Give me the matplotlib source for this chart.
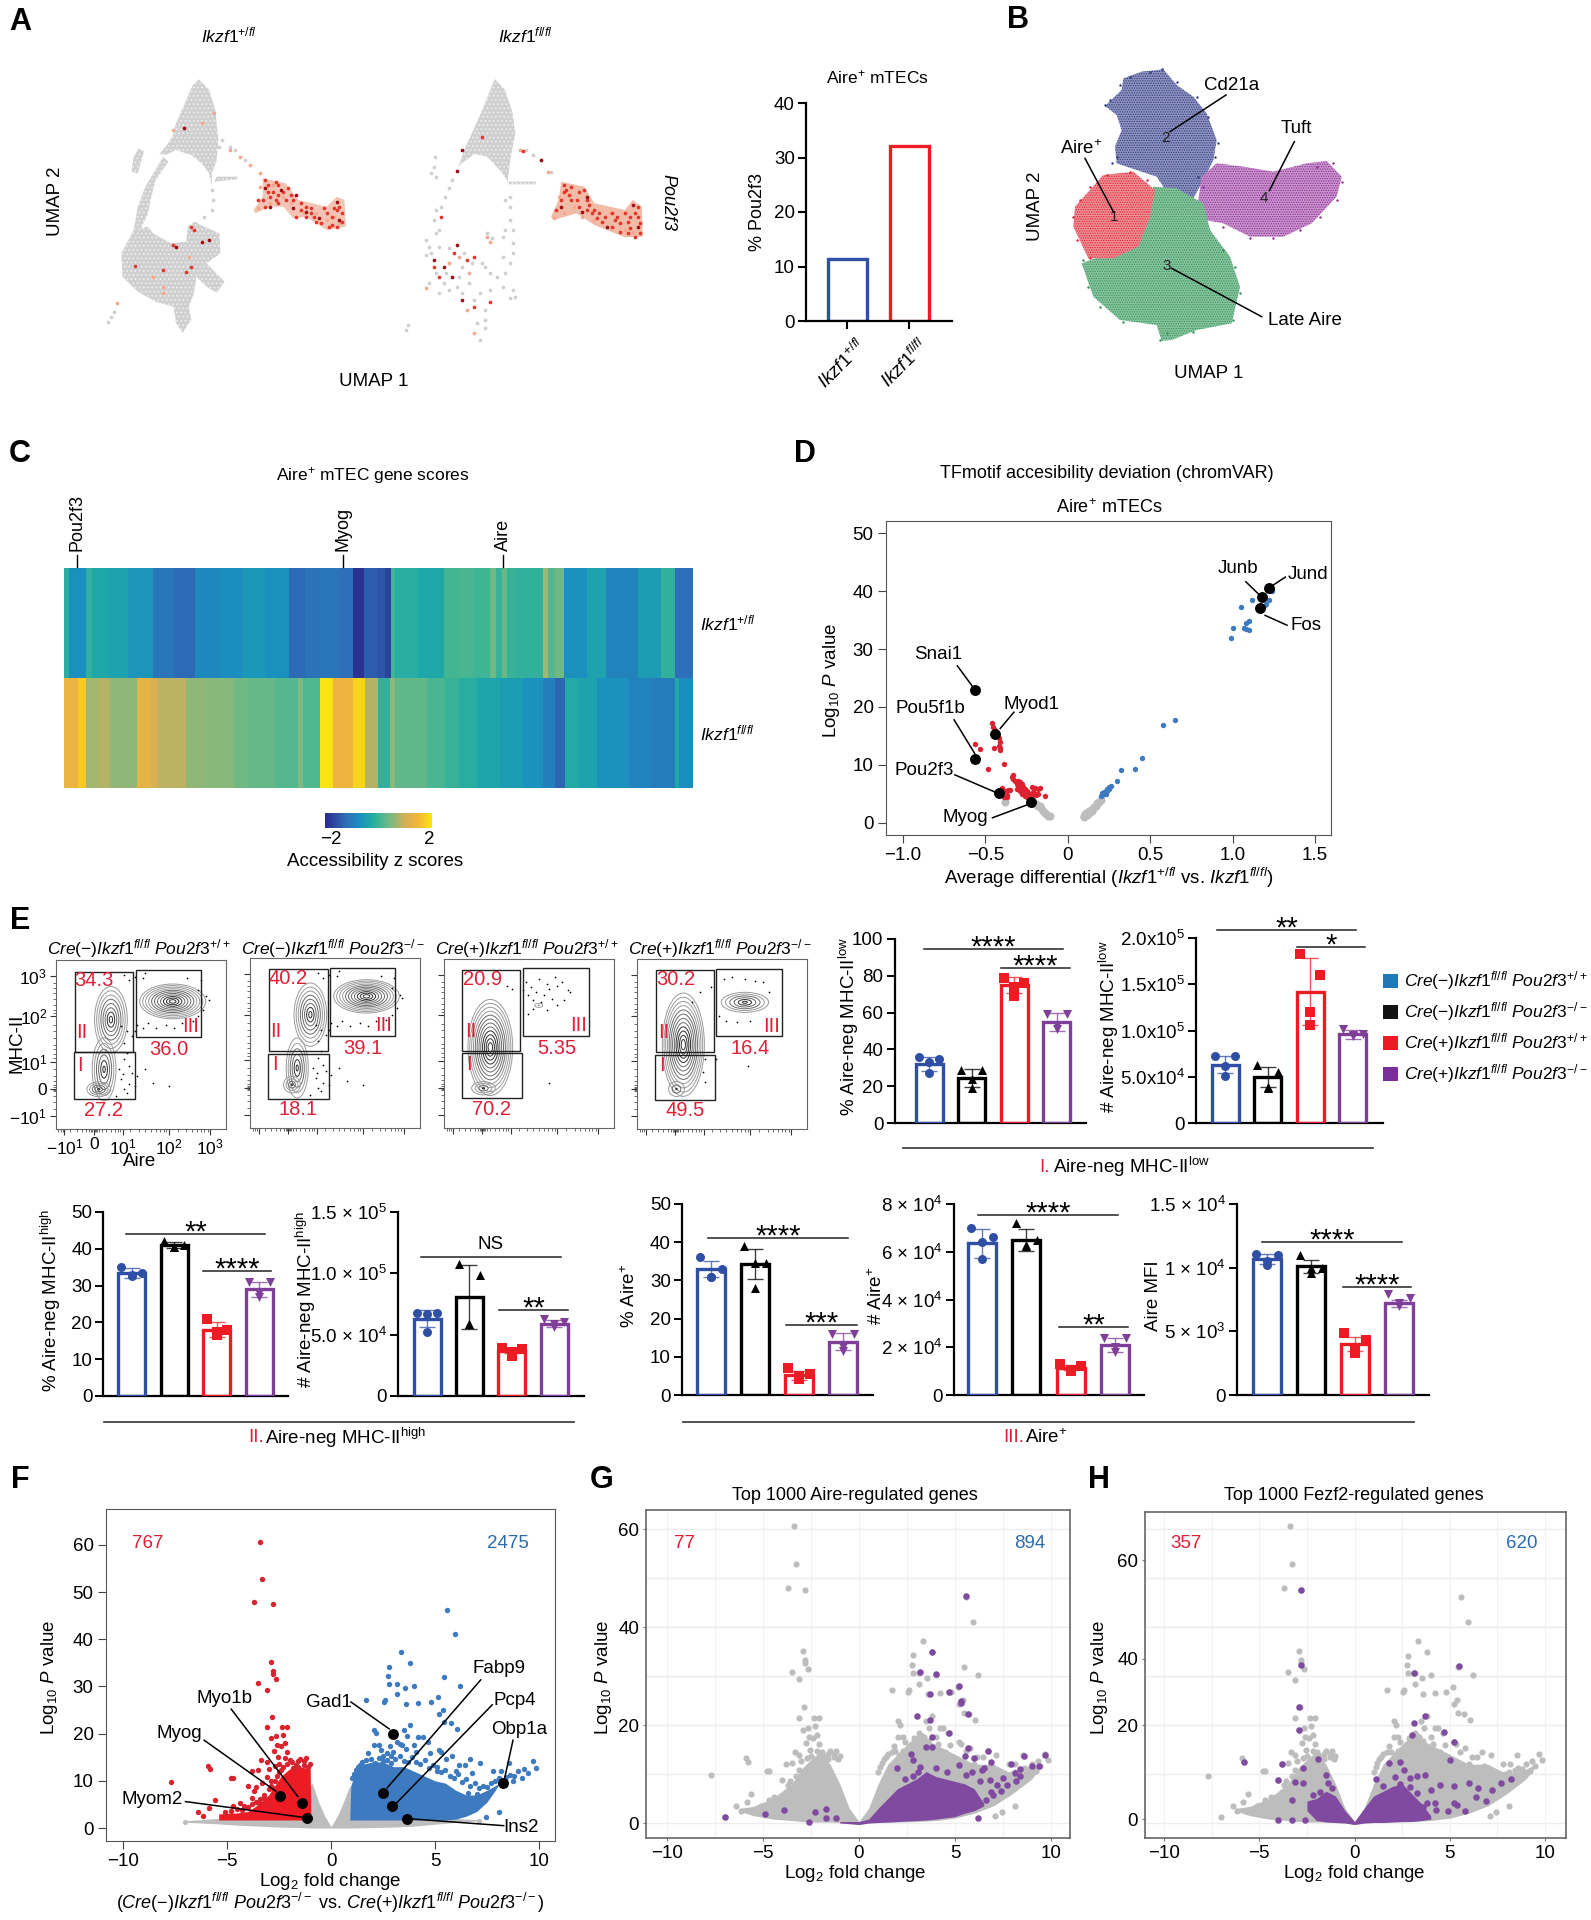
"""
    Multi panel figure: UMAPs, heatmap, flow plots, bar charts and volcano plots
"""

import numpy as np
import matplotlib
matplotlib.use('Agg')
import matplotlib.pyplot as plt
from matplotlib.colors import LinearSegmentedColormap, Normalize
from matplotlib.colorbar import ColorbarBase
from matplotlib.patches import Ellipse, Rectangle

plt.rcParams['font.family'] = ['Liberation Sans', 'DejaVu Sans']
plt.rcParams['mathtext.fontset'] = 'custom'
plt.rcParams['mathtext.rm'] = 'Liberation Sans'
plt.rcParams['mathtext.it'] = 'Liberation Sans:italic'
plt.rcParams['mathtext.bf'] = 'Liberation Sans:bold'
plt.rcParams['mathtext.default'] = 'regular'
plt.rcParams['hatch.linewidth'] = 0.6

# ---- panel A
umap_left_top = [(390, 238), (410, 270), (422, 330), (428, 420), (425, 480), (415, 520), (415, 560), (410, 520),
                 (395, 490), (375, 465), (345, 450), (325, 465), (312, 462), (325, 440), (338, 410), (345, 370),
                 (365, 300), (378, 255)]
umap_left_branch = [(425, 530), (465, 530), (465, 538), (420, 545)]
umap_left_bar = [(272, 445), (282, 455), (270, 520), (258, 515), (262, 470)]
umap_left_arm = [(320, 470), (330, 485), (305, 540), (295, 600), (290, 640), (275, 690), (262, 690), (270, 620),
                 (285, 560)]
umap_left_low = [(262, 690), (290, 680), (300, 700), (335, 730), (365, 725), (368, 680), (382, 665), (400, 680),
                 (430, 700), (432, 760), (405, 790), (440, 845), (425, 878), (405, 860), (385, 830), (380, 880),
                 (370, 920), (375, 960), (358, 998), (345, 970), (340, 920), (305, 905), (270, 875), (240, 830),
                 (238, 760)]
umap_left_hot = [(515, 535), (560, 550), (585, 600), (640, 620), (660, 590), (675, 600), (678, 680), (640, 690),
                 (600, 650), (575, 655), (555, 620), (530, 620), (500, 640), (497, 630), (515, 590)]
umap_left_grey = [(212, 965), (218, 950), (224, 935), (415, 570), (418, 600), (415, 630), (400, 650), (430, 440),
                  (435, 420), (450, 440), (460, 450), (480, 480)]
umap_l_dark = [(530, 620), (600, 635), (580, 585), (660, 605), (665, 660), (625, 655), (520, 565), (575, 625),
               (550, 570), (410, 720), (345, 740), (360, 385), (395, 725)]
umap_l_red = [(520, 540), (545, 555), (565, 565), (530, 590), (560, 600), (590, 610), (610, 625), (640, 640),
              (655, 625), (670, 640), (645, 680), (600, 650), (580, 650), (540, 600), (515, 600), (525, 575),
              (545, 585), (630, 670), (660, 680), (380, 690), (375, 680), (340, 735), (320, 810), (265, 797),
              (365, 815), (375, 800), (525, 555), (535, 575), (555, 575), (575, 600), (600, 620), (615, 650),
              (635, 625), (650, 650), (660, 630), (670, 665), (610, 640), (590, 630), (545, 610), (520, 620),
              (505, 600), (665, 620), (650, 675), (620, 665), (570, 585), (540, 545)]
umap_l_pale = [(510, 560), (535, 555), (555, 590), (570, 610), (595, 640), (620, 640), (640, 660), (655, 650),
               (665, 670), (530, 610), (505, 625), (340, 390), (395, 370), (420, 340), (230, 908), (320, 860),
               (370, 770), (320, 880), (300, 830), (450, 450), (470, 470), (490, 495), (510, 520)]

umap_right_top = [(970, 237), (990, 270), (1005, 340), (1010, 400), (1000, 480), (995, 545), (1050, 545), (1050, 553),
                  (998, 553), (985, 520), (955, 470), (930, 462), (905, 490), (898, 500), (910, 450), (925, 400),
                  (945, 330)]
umap_right_hot = [(1100, 545), (1145, 560), (1165, 610), (1225, 630), (1240, 600), (1258, 620), (1260, 710),
                  (1225, 712), (1165, 675), (1130, 640), (1085, 660), (1080, 650), (1095, 600)]
umap_right_grey = [(800, 975), (795, 990), (880, 565), (872, 590), (865, 620), (855, 630), (850, 500), (845, 520),
                   (852, 470), (855, 530), (885, 540), (990, 600), (1000, 590), (1000, 620), (1000, 660), (1005, 690),
                   (990, 690), (985, 710), (1005, 730), (1005, 760), (985, 770), (950, 800), (975, 830), (1005, 870),
                   (1010, 890), (1000, 895), (960, 870), (940, 880), (930, 900), (905, 880), (880, 870), (860, 880),
                   (840, 850), (835, 765), (845, 760), (860, 740), (880, 745), (910, 760), (925, 790), (945, 790),
                   (900, 830), (875, 820), (855, 820), (880, 790), (905, 800), (950, 960), (950, 985), (935, 970),
                   (940, 1020), (955, 700), (965, 715), (860, 690), (850, 660), (855, 700), (835, 720), (840, 740),
                   (950, 930), (920, 850), (895, 860), (870, 850), (1030, 450), (1045, 465), (1060, 480), (1080, 515),
                   (960, 820), (985, 860), (1000, 790), (990, 820)]
umap_r_dark = [(1140, 635), (1100, 620), (1150, 590), (1240, 615), (1250, 680), (1190, 680), (850, 780), (870, 800),
               (895, 735), (905, 450), (895, 512), (885, 830), (905, 900), (1060, 480)]
umap_r_red = [(1110, 570), (1130, 600), (1155, 615), (1175, 640), (1205, 660), (1230, 665), (1250, 650), (1255, 700),
              (1215, 695), (1105, 555), (1115, 585), (1145, 570), (1170, 655), (865, 650), (850, 800), (860, 830),
              (930, 770), (915, 780), (960, 905), (930, 920), (890, 760), (1025, 452), (945, 410), (1105, 575),
              (1120, 600), (1135, 575), (1150, 600), (1165, 630), (1185, 650), (1200, 640), (1215, 670), (1235, 650),
              (1245, 640), (1255, 670), (1245, 710), (1230, 700), (1200, 680), (1180, 665), (1160, 640), (1135, 620),
              (1120, 560), (1100, 600), (1090, 630), (1210, 650), (1225, 640), (1250, 620), (1235, 685), (1150, 630)]
umap_r_pale = [(1095, 590), (1125, 620), (1165, 660), (1195, 640), (1225, 690), (1240, 695), (1085, 655), (1105, 640),
               (1140, 650), (955, 710), (960, 725), (880, 790), (900, 770), (920, 820), (915, 930), (835, 865),
               (930, 1000), (1020, 450), (1075, 515)]

pou2f3_groups = ['$\\mathit{Ikzf1}^{\\mathit{+/fl}}$', '$\\mathit{Ikzf1}^{\\mathit{fl/fl}}$']
pou2f3_percent = [11.4, 32.1]

# ---- panel B
cluster_navy = [(345, 318), (395, 270), (400, 235), (455, 215), (520, 208), (560, 255), (610, 290), (650, 340),
                (680, 420), (670, 480), (640, 540), (610, 595), (540, 590), (500, 530), (440, 510), (380, 490),
                (375, 440), (395, 390), (380, 345)]
cluster_purple = [(635, 530), (680, 490), (760, 500), (850, 515), (950, 490), (1010, 483), (1055, 530), (1040, 590),
                  (965, 670), (880, 710), (780, 710), (700, 670), (645, 660), (625, 600)]
cluster_green = [(490, 560), (560, 565), (640, 610), (660, 690), (720, 770), (750, 860), (725, 970), (620, 990),
                 (545, 1020), (515, 1022), (500, 975), (390, 960), (310, 890), (275, 790), (370, 755), (460, 680),
                 (470, 620)]
cluster_red = [(255, 620), (340, 525), (430, 515), (495, 570), (480, 650), (445, 740), (370, 775), (295, 775),
               (250, 680)]
edge_navy = [(345, 315), (360, 300), (390, 255), (420, 230), (480, 215), (515, 208), (560, 245), (620, 290),
             (655, 350), (685, 430), (675, 470), (625, 530), (380, 470), (365, 490)]
edge_purple = [(1055, 545), (1030, 490), (980, 500), (1040, 600), (990, 650), (930, 690), (850, 715), (780, 715),
               (700, 680), (640, 560)]
edge_green = [(280, 780), (295, 860), (330, 920), (400, 965), (510, 1020), (530, 1000), (610, 995), (730, 960),
              (750, 880), (735, 800), (700, 750)]
edge_red = [(250, 650), (270, 600), (300, 560), (350, 525), (420, 515), (470, 540), (260, 720), (300, 775)]

# ---- panel C (widths are runs of columns, values are z scores)
top_widths = [10, 37, 13, 35, 45, 53, 47, 45, 55, 47, 53, 50, 35, 35, 40, 30, 23, 29, 18, 12, 8, 50, 58, 32, 30, 37,
              13, 15, 10, 20, 58, 12, 15, 20, 50, 40, 70, 50, 30, 40]
top_scores = [-.2, -.7, -.1, -.3, -.4, -.6, -1.1, -1.25, -.8, -.75, -.55, -.7, -1.25, -1.15, -1.1, -1.2, -1.9, -1.4,
              -1.5, -1.7, 0, -.2, -.3, .05, .1, 0, .4, -.05, .35, -.05, -.1, .7, .2, .4, -.7, -.4, -.9, -.5, -.1,
              -1.2]
bottom_widths = [30, 17, 28, 25, 58, 32, 15, 60, 45, 60, 30, 60, 50, 10, 38, 27, 45, 25, 30, 25, 10, 70, 40, 30, 40,
                 50, 50, 43, 27, 22, 28, 40, 70, 50, 50, 10, 30]
bottom_scores = [1.35, 1.7, .7, .8, .6, 1.25, 1.05, .85, .6, .55, .4, .3, .2, .5, .15, 1.95, 1.4, 1.8, .8, -.1, .6,
                 .25, .1, -.05, -.2, -.35, -.5, -.65, -.95, -1.3, -.25, -.4, -.65, -.9, -1, -.3, -.75]

# ---- panel D
d_blue = [(1.24, 40), (1.22, 38.5), (1.12, 38.5), (1.05, 37.3), (1.2, 37.8), (1.19, 37.4), (1.1, 34.8), (1.08, 34.4),
          (1.0, 33.7), (1.07, 33.7), (1.1, 33.3), (1.08, 33.4), (.99, 31.9), (.65, 17.7), (.58, 16.9), (.45, 11.2),
          (.41, 9.3), (.32, 9.1), (.30, 7.2), (.26, 6.4), (.25, 6.2), (.24, 5.9), (.23, 5.6), (.22, 5.3), (.22, 5.0),
          (.21, 4.8), (.2, 4.6), (.21, 5.2), (.23, 5.0), (.24, 5.5), (.25, 5.8)]
d_grey = [(.10, 1.2), (.105, 1.5), (.11, 1.7), (.12, 1.9), (.13, 2.1), (.14, 2.3), (.15, 2.5), (.16, 2.8), (.17, 3.0),
          (.18, 3.4), (.19, 3.7), (.2, 4.0), (.1, 1.0), (.115, 1.3), (.125, 1.6), (.135, 1.9), (.145, 2.1),
          (-.11, 1.2), (-.12, 1.2), (-.13, 1.5), (-.14, 1.8), (-.15, 2.1), (-.16, 2.5), (-.17, 2.9), (-.18, 3.0),
          (-.19, 3.3), (-.2, 3.2), (-.21, 3.5), (-.38, 3.6)]
d_red = [(-.46, 17.2), (-.455, 16.6), (-.44, 16), (-.42, 14.6), (-.41, 14), (-.42, 13.2), (-.41, 13.0), (-.41, 12.5),
         (-.56, 13.6), (-.53, 12.8), (-.45, 12.9), (-.385, 10.2), (-.485, 9.3), (-.33, 8.3), (-.34, 8), (-.33, 7.5),
         (-.32, 7.2), (-.31, 6.8), (-.29, 7), (-.28, 6.8), (-.3, 6.4), (-.27, 6.2), (-.26, 5.8), (-.25, 5.5),
         (-.24, 5.2), (-.23, 5), (-.22, 4.8), (-.2, 5), (-.19, 4.9), (-.18, 5), (-.14, 4.7), (-.2, 6), (-.18, 5.8),
         (-.17, 6), (-.22, 6.2), (-.4, 6), (-.39, 5.5), (-.36, 5.7), (-.35, 5.7), (-.37, 4.9), (-.37, 4.5),
         (-.28, 5.7), (-.27, 5.2), (-.26, 4.6), (-.25, 4.5), (-.29, 5.5), (-.31, 5.9), (-.24, 4.4), (-.22, 4.2),
         (-.39, 4.5), (-.3, 5.8), (-.29, 6.2), (-.26, 5.2), (-.28, 5), (-.24, 4.8), (-.21, 5.3), (-.3, 7.3)]
d_black = [(1.18, 39), (1.22, 40.6), (1.165, 37), (-.565, 22.9), (-.44, 15.4), (-.56, 11.1), (-.42, 5.2), (-.225, 3.7)]

# ---- panel E, flow plots (gates and contours in plot units, rows follow the four genotypes)
flow_titles = ['$\\mathit{Cre}(-)\\mathit{Ikzf1}^{\\mathit{fl/fl}}\\ \\mathit{Pou2f3}^{\\mathit{+/+}}$',
               '$\\mathit{Cre}(-)\\mathit{Ikzf1}^{\\mathit{fl/fl}}\\ \\mathit{Pou2f3}^{\\mathit{-/-}}$',
               '$\\mathit{Cre}(+)\\mathit{Ikzf1}^{\\mathit{fl/fl}}\\ \\mathit{Pou2f3}^{\\mathit{+/+}}$',
               '$\\mathit{Cre}(+)\\mathit{Ikzf1}^{\\mathit{fl/fl}}\\ \\mathit{Pou2f3}^{\\mathit{-/-}}$']
gate_percent_i = ['27.2', '18.1', '70.2', '49.5']
gate_percent_ii = ['34.3', '40.2', '20.9', '30.2']
gate_percent_iii = ['36.0', '39.1', '5.35', '16.4']
gates_i = [(35, 150, 278, 420), (35, 150, 287, 423), (34, 148, 285, 420), (35, 149, 287, 422)]
gates_ii = [(37, 147, 35, 278), (36, 148, 33, 280), (35, 145, 32, 277), (37, 147, 32, 280)]
gates_iii = [(152, 276, 29, 233), (152, 276, 30, 233), (150, 275, 27, 232), (151, 276, 29, 232)]
flow_contours = [[(92, 330, 45, 190, 6), (82, 390, 45, 45, 5), (105, 180, 62, 200, 8), (222, 125, 125, 105, 11)],
                 [(90, 330, 42, 180, 6), (80, 380, 32, 50, 4), (115, 170, 62, 190, 8), (222, 115, 125, 100, 11)],
                 [(88, 267, 85, 290, 12), (75, 390, 45, 40, 4), (180, 140, 15, 12, 2)],
                 [(88, 257, 80, 310, 12), (75, 390, 30, 45, 3), (205, 130, 90, 60, 6)]]
dots_bright = [(150, 50), (165, 55), (170, 40), (140, 60), (130, 45), (250, 55), (275, 60), (270, 90), (285, 110),
               (280, 150), (270, 170), (260, 185), (240, 190), (210, 195), (175, 190), (155, 195), (145, 230),
               (130, 250), (135, 280), (130, 300), (140, 320), (145, 340), (125, 360), (130, 390), (115, 410),
               (150, 380), (170, 330), (185, 370), (215, 380), (290, 120), (125, 200), (135, 215), (150, 215),
               (165, 205), (190, 205), (225, 205), (140, 375), (120, 330), (128, 345), (155, 350), (135, 400)]
dots_sparse = [(120, 80), (130, 90), (155, 70), (165, 85), (175, 100), (190, 110), (200, 90), (215, 80), (225, 70),
               (235, 95), (205, 120), (185, 130), (170, 150), (160, 165), (215, 140), (195, 155), (240, 100),
               (180, 60), (210, 55), (200, 375), (160, 110), (195, 75), (150, 95), (228, 125), (170, 125)]
dots_weak = [(165, 60), (180, 55), (205, 60), (225, 65), (240, 70), (250, 100), (155, 170), (170, 185), (190, 190),
             (215, 185), (130, 300), (125, 340), (130, 370), (150, 300), (210, 320), (120, 100), (140, 85), (105, 130)]
flow_minor_x = [5, 10, 14, 28, 40, 50, 58, 64, 68, 70, 72, 74, 76, 78, 82, 88, 96, 105, 112, 118, 122, 142, 158, 170,
                180, 190, 198, 205, 210, 232, 248, 258, 268, 276, 282, 288]
flow_minor_y = [70, 85, 100, 118, 135, 150, 160, 195, 215, 235, 255, 270, 285, 295, 330, 350, 365, 378, 384, 388, 392,
                396, 410, 430, 450]

# ---- panel E, bars (means, sd, and the four mice of each group)
low_pct_mean = [32, 24.5, 75, 55]
low_pct_sd = [4, 5, 4.5, 5]
low_pct_pts = [[36, 35, 33, 27], [29, 29, 24, 19], [79, 76, 74, 69], [59, 59, 53, 51]]
low_num_mean = [6.3e4, 5.0e4, 1.42e5, 9.6e4]
low_num_sd = [.9e4, 1.1e4, 3.6e4, .5e4]
low_num_pts = [[7.2e4, 7.2e4, 6.2e4, 5.1e4], [6.3e4, 5.5e4, 3.9e4, 3.8e4], [18.3e4, 16e4, 12e4, 10.6e4],
               [10.2e4, 9.6e4, 9.5e4, 9.4e4]]
high_pct_mean = [33.5, 41, 18, 29]
high_pct_sd = [1.3, .8, 2, 2]
high_pct_pts = [[35, 33.5, 33, 32.5], [42, 41, 40.5, 40.5], [21, 18, 17.5, 16.5], [31, 31, 28, 27]]
high_num_mean = [6.3e4, 8.1e4, 3.7e4, 5.9e4]
high_num_sd = [.7e4, 2.6e4, .2e4, .3e4]
high_num_pts = [[6.8e4, 6.8e4, 6.7e4, 5.2e4], [10.8e4, 9.9e4, 5.9e4, 5.9e4], [3.9e4, 3.8e4, 3.6e4, 3.3e4],
                [6.3e4, 6.0e4, 5.9e4, 5.6e4]]
aire_pct_mean = [33, 34.3, 5.2, 14]
aire_pct_sd = [2, 4, 1.2, 2.3]
aire_pct_pts = [[36, 33, 31, 31], [39, 34.5, 34.5, 28], [7, 5.5, 5, 4.2], [16, 16, 12.5, 11.5]]
aire_num_mean = [6.35e4, 6.5e4, 1.15e4, 2.1e4]
aire_num_sd = [.6e4, .45e4, .1e4, .3e4]
aire_num_pts = [[7.0e4, 6.6e4, 6.4e4, 5.7e4], [7.2e4, 6.5e4, 6.3e4, 6.25e4], [1.3e4, 1.2e4, 1.05e4, 1.0e4],
                [2.4e4, 2.4e4, 2.0e4, 1.8e4]]
aire_mfi_mean = [1.07e4, 1.01e4, 4.0e3, 7.2e3]
aire_mfi_sd = [.04e4, .05e4, .055e4, .03e4]
aire_mfi_pts = [[11.1e3, 11.0e3, 10.5e3, 10.2e3], [11e3, 10e3, 10e3, 9.6e3], [4.9e3, 4.3e3, 3.6e3, 3.3e3],
                [7.9e3, 7.6e3, 7.2e3, 7.0e3]]

# ---- panel F, G, H shared volcano
grey_x = [-6.9, -5.5, -4.5, -3.5, -2.5, -1.5, -1.0, -.9, -.6, -.3, 0, .3, .6, .9, 1.0, 2, 3, 4, 5, 6, 7]
grey_hi = [1.6, 2, 2, 2, 2, 4, 9, 9.5, 5.5, 2.5, .3, 2.5, 5.5, 9, 8, 2, 2, 2, 2, 2, 1.8]
grey_lo = [1.2, .9, .6, .4, .2, .1, 0, 0, 0, 0, 0, 0, 0, 0, 0, .1, .2, .4, .8, 1.2, 1.5]
red_x = [-5.4, -4.5, -4, -3.5, -3, -2.7, -2.4, -2, -1.5, -1.0, -.97]
red_hi = [3, 3.2, 3.5, 5, 7, 9, 11, 12.5, 13, 12.5, 1.7]
blue_x = [.9, .95, 1.2, 1.5, 2, 2.5, 3, 3.5, 4, 4.5, 5, 5.5, 6, 6.5, 7, 7.5, 7.9, 8.1]
blue_hi = [1.7, 9, 12, 13.5, 14, 14, 13, 13, 12, 11, 10, 9.5, 8, 7, 7, 8, 9, 9.5]
blue_lo = [1.7, 1.7, 1.7, 1.7, 1.7, 1.7, 1.7, 1.7, 1.7, 1.7, 1.7, 1.7, 1.9, 2.5, 3.5, 5.5, 8, 9.5]
f_red = [(-3.4, 60.7), (-3.3, 52.8), (-3.7, 47.9), (-2.8, 47.5), (-2.9, 35.1), (-2.8, 33.2), (-2.8, 32.7),
         (-2.65, 31.5), (-3.5, 30.8), (-3.1, 29.3), (-2.85, 23.6), (-3.1, 21.4), (-2.35, 21.4), (-2.1, 21.4),
         (-2.9, 19), (-2.65, 19.4), (-2.3, 19.8), (-2.2, 18), (-2.6, 17.6), (-2.4, 17.4), (-2.75, 16.4), (-2.1, 16.2),
         (-3.35, 14.5), (-3.1, 13.9), (-2.55, 15), (-2.2, 14.8), (-1.95, 14.5), (-5.9, 13.2), (-5.8, 12.5),
         (-4.8, 10.6), (-4.7, 10.6), (-7.7, 9.7), (-3.8, 12), (-3.5, 12.3), (-1.6, 14.1), (-1.3, 14.1), (-1.3, 13.4),
         (-1.6, 13), (-1.85, 12.7), (-4, 8.8), (-3.7, 7.8), (-3.8, 6.4), (-3.1, 10.9), (-2.9, 9.9), (-2.8, 8.5),
         (-3.2, 6.4), (-3.45, 5.3), (-4.4, 5.3), (-4.7, 4.7), (-5.6, 5.9), (-5.85, 4.2), (-6.4, 3.5), (-6.15, 2.5),
         (-4.2, 4.6), (-3, 4.9), (-5.1, 3.5), (-4.8, 3.6), (-4.5, 4.1), (-4.3, 3.9), (-4.0, 4.5), (-3.8, 5),
         (-3.6, 5.5), (-3.4, 6.2), (-3.2, 7), (-3, 8.2), (-2.9, 8.9), (-2.7, 10), (-2.6, 11), (-2.5, 11.8),
         (-2.4, 12.4), (-2.3, 13), (-2.1, 13.6), (-1.9, 13.9), (-1.7, 13.4), (-1.5, 14.7), (-1.2, 14.8), (-1.1, 13),
         (-1.0, 13.6), (-2.7, 13.2), (-2.5, 13.6), (-3.0, 12.6), (-3.3, 9.6), (-3.6, 8.6)]
f_blue = [(5.6, 46.2), (5.95, 41.1), (3.35, 37.2), (3.8, 34.9), (2.8, 34.2), (2.75, 32.3), (5.45, 31.9), (6.2, 30.2),
          (2.8, 30.6), (3.15, 30.6), (3.55, 29.6), (4.0, 30.2), (3.15, 28.4), (1.7, 27.1), (2.55, 26.8), (2.6, 27.2),
          (3.6, 26.3), (4.2, 26.5), (4.8, 26.7), (5.15, 27.7), (5.4, 25.1), (5.2, 24.2), (5.45, 22.4), (5.75, 22.2),
          (6.05, 21), (3.8, 21.9), (3.5, 20.8), (2.05, 20.8), (2.15, 20.1), (4.2, 19.3), (4.4, 19.3), (3.65, 19.4),
          (4.65, 18.3), (2.05, 17.6), (2.3, 17.6), (3.15, 18.3), (2.85, 17.3), (3.4, 17.6), (2.7, 15.9), (2.5, 15.2),
          (4, 17.6), (4.1, 16.2), (5.2, 16.6), (5.3, 16.2), (4.75, 15.9), (5.8, 15.3), (5.55, 14.6), (6.7, 14.6),
          (7.15, 13.8), (6.15, 13.4), (6.45, 13.4), (1.4, 13.4), (8.55, 13.8), (9.7, 14.1), (9.85, 12.8), (7.8, 12),
          (8.15, 12), (9, 12), (9.45, 11.6), (9.2, 10.6), (8.75, 9.9), (6.8, 11.6), (8.1, 3.4), (7.45, 2.3), (6, 12),
          (5.1, 12), (1.0, 10.5), (1.1, 11.5), (1.2, 12.3), (1.3, 13), (1.5, 14), (1.7, 14.4), (1.9, 14.6), (2.1, 13.8),
          (2.3, 14.8), (2.5, 14.2), (2.7, 14.5), (2.9, 13.8), (3.1, 14.7), (3.3, 15.2), (3.5, 14.2), (3.7, 13.9),
          (3.9, 15), (4.1, 14), (4.3, 13.5), (4.5, 14.4), (4.7, 12.8), (4.9, 13.4), (5.1, 13), (5.3, 11.8), (5.5, 12.2),
          (5.7, 11), (5.9, 10.6), (6.1, 11.5), (6.3, 9.8), (6.5, 10.4), (6.7, 9), (6.9, 9.6), (7.1, 8.4), (7.3, 8.8),
          (7.5, 8.6), (7.7, 9.6), (7.9, 10), (8.1, 10.5), (8.4, 10.8), (8.6, 11.2), (8.8, 11), (9.3, 12.6), (6.2, 6.5),
          (6.6, 7.5), (7, 7.2), (1.8, 15.8), (2.4, 16.5), (3, 16.2), (3.3, 17.8), (3.6, 16.8), (2.9, 15.3)]
f_grey = [(-7, 1.3), (7.1, 1.4)]
f_black = [(-1.4, 5.4), (-2.45, 6.7), (-1.15, 2.1), (3, 20), (2.5, 7.5), (2.95, 4.6), (8.25, 9.5), (3.65, 2)]

g_purple = [(5.6, 46.4), (3.8, 35), (3.2, 30.8), (4.0, 30.4), (5.2, 27.9), (4.7, 26.7), (3.7, 26.3), (5.3, 25.0),
            (5.3, 24.5), (5.7, 22.2), (3.0, 21.8), (3.7, 21.1), (4.7, 18.4), (3.8, 17.5), (5.7, 15.3), (3.5, 15.6),
            (3.8, 15.6), (2.7, 14.1), (6.7, 14.6), (5.5, 13.6), (6.0, 13.3), (2.8, 12.9), (8.6, 13.7), (9.7, 13.9),
            (7.9, 12.1), (6.9, 12.4), (9.4, 11.6), (9.0, 11.6), (5.2, 11.9), (6.5, 11.2), (6.4, 10.9), (2.0, 11.2),
            (8.4, 9.5), (8.2, 8.5), (7.7, 7.8), (7.4, 6.5), (7.0, 5.8), (6.2, 1.0), (-7.0, 1.2), (-4.9, 1.8),
            (-3.9, 2.6), (-2.3, 2.2), (-1.7, 2.9), (-1.7, 1.0), (-2.6, .3), (-1.2, 1.0), (3.2, 11.4), (4, 11.2),
            (4.6, 10.5), (5.6, 9.8), (5.9, 10.4), (6.3, 8.6), (6.8, 8.8), (7.2, 7.8), (6.9, 6.4), (2.4, 9), (2.8, 9.6),
            (3.1, 10.4), (8.4, 11), (8.1, 10.2), (7.5, 9.2), (6.6, 4.6)]
g_blob_x = [-1, 0, .5, 1, 1.5, 2, 3, 3.5, 4, 5, 5.5, 6, 6.5]
g_blob_hi = [.3, .3, .8, 3, 5, 7, 9, 10.5, 9.5, 8.5, 8, 7, 4]
g_blob_lo = [0, -.3, 0, .1, .2, .3, .5, .6, .8, 1.3, 2, 2.5, 3.5]
cloud_x = [-6.2, -5.5, -4.5, -3.5, -3, -2.5, -2, -1.5, -1.0, -.5, 0, .5, 1, 1.5, 2, 3, 4, 5, 6, 7, 8, 9, 9.5]
cloud_hi = [3, 3.4, 5, 8, 11, 13, 14, 12, 8, 3, .3, 3, 8, 12, 14, 18, 16, 14, 12, 12, 10, 11, 12]
cloud_lo = [2.4, 1.5, .8, .5, .3, .2, .2, .2, .1, 0, -.3, 0, .1, .1, .2, .3, .5, 1, 2, 3.5, 6, 9, 11.5]
h_purple = [(-2.8, 47.6), (-2.8, 32.3), (5.5, 32), (3.1, 30.7), (-2.9, 23.7), (-2.9, 19), (3.1, 20.5), (3.7, 21.8),
            (3.0, 18), (4.7, 18.6), (5.2, 16.5), (5.0, 12.9), (-1.9, 13.1), (-5.8, 12.4), (-3.8, 12.1), (-2.7, 11.2),
            (-4, 8.8), (-3.1, 8.3), (-2.7, 8.2), (-1.5, 9.9), (1.8, 12.2), (2.4, 12.4), (1.1, 9), (2.6, 10.9),
            (3.7, 9.9), (6, 8.2), (5.2, 7.5), (4.5, 7.8), (4, 6.8), (3.3, 6.1), (7.2, 6.8), (7.7, 8.2), (8.2, 9),
            (6.9, 4.4), (6.4, 5.4), (5.2, 4.1), (4.2, 4.1), (5.8, 2.4), (4.3, 2.7), (-3.3, 4.8), (-3.3, .7),
            (-2.6, .7), (-4, .7), (3.3, 9.5), (2.9, 9.2), (1.5, 7.5), (2.1, 9.4), (-2.2, 5.8), (-1.8, 6.4), (-1.2, 7.2),
            (-1.4, 8.2), (3.8, 4), (4.9, 2.5), (5.4, 3.6), (6.5, 7.2), (3.4, 2), (3.6, 3.2), (2.9, 7.4), (2.4, 7.9)]
h_blob_x = [-2.5, -2, -1.5, -1, -.5, 0, .5, 1, 1.5, 2, 2.5, 3, 3.5, 4]
h_blob_hi = [4.5, 5, 6.5, 5.5, 2.5, .3, 3, 5.5, 6.5, 7.5, 8, 6, 4, 1.5]
h_blob_lo = [2.5, .5, .2, .1, 0, -.3, 0, .1, .1, .2, .3, .3, .5, .8]

GENOTYPE_BAR = ['#2f4fa5', '#000000', '#ed1c24', '#7f3f98']
GENOTYPE_KEY = ['#1f78b8', '#111111', '#ed1c24', '#7b2d9a']
MARKERS = ['o', '^', 's', 'v']
RED_TXT = '#e01f36'
BLUE_TXT = '#2b6cb0'

fig = plt.figure(figsize=(15.91, 19.2), dpi=100)


def px_axes(x0, y_top, x1, y_bot):
    """ Axes placed by reference pixels """
    return fig.add_axes([x0 / 1591, 1 - y_bot / 1920, (x1 - x0) / 1591, (y_bot - y_top) / 1920])


# overlay in reference pixels, for free text and group lines
ov = fig.add_axes([0, 0, 1, 1], zorder=20)
ov.set_xlim(0, 1591)
ov.set_ylim(1920, 0)
ov.axis('off')


def put(x, y, s, size=13.5, **kw):
    kw.setdefault('ha', 'center')
    kw.setdefault('va', 'center')
    ov.text(x, y, s, fontsize=size, **kw)


for letter, lx, ly in [('A', 20, 22), ('B', 1018, 20), ('C', 20, 454), ('D', 805, 454), ('E', 20, 921),
                       ('F', 20, 1480), ('G', 602, 1480), ('H', 1099, 1480)]:
    put(lx, ly, letter, size=22, fontweight='bold')


def callout(ax, name, tx, ty, seg, ha='center', size=13.5):
    """ Gene label with a straight leader line """
    ax.text(tx, ty, name, ha=ha, va='center', fontsize=size, zorder=6)
    ax.plot([seg[0], seg[2]], [seg[1], seg[3]], color='k', lw=1.1, zorder=5)


def xy(points):
    return np.array(points).T


# ==== A
ax = px_axes(0, 0, 800, 420)
ax.set_xlim(0, 1568)
ax.set_ylim(1260, 0)
ax.axis('off')
for poly in [umap_left_top, umap_left_branch, umap_left_bar, umap_left_arm, umap_left_low, umap_right_top]:
    ax.fill(*xy(poly), facecolor='#d0d0d0', edgecolor='#f3f3f3', hatch='....', linewidth=0)
ax.fill(*xy(umap_left_hot), facecolor='#f2c4b4', edgecolor='none')
ax.fill(*xy(umap_right_hot), facecolor='#f2bba8', edgecolor='none')
for pts in [umap_left_grey, umap_right_grey]:
    ax.scatter(*xy(pts), s=7, color='#cfcfcf', linewidths=0)
for pts in [umap_l_pale, umap_r_pale]:
    ax.scatter(*xy(pts), s=7, color='#f6a88f', linewidths=0)
for pts in [umap_l_red, umap_r_red]:
    ax.scatter(*xy(pts), s=7, color='#e5352b', linewidths=0)
for pts in [umap_l_dark, umap_r_dark]:
    ax.scatter(*xy(pts), s=7, color='#9d0d14', linewidths=0)
put(229, 35, pou2f3_groups[0], size=12.5)
put(525, 35, pou2f3_groups[1], size=12.5)
put(374, 382, 'UMAP 1', size=13.5)
put(56, 201, 'UMAP 2', size=13.5, rotation=90)
put(668, 202, 'Pou2f3', size=13, rotation=-90, style='italic')

ax = px_axes(806, 103, 952, 321)
ax.set_ylim(0, 40)
ax.set_xlim(-(847 - 806) / 62, 1 + (952 - 909) / 62)
ax.bar([0, 1], pou2f3_percent, width=39 / 62, fill=False, edgecolor=[GENOTYPE_BAR[0], GENOTYPE_BAR[2]], linewidth=2.4)
ax.set_yticks([0, 10, 20, 30, 40])
ax.set_xticks([0, 1], ['', ''])
ax.tick_params(labelsize=13.5, width=1.5, length=6, pad=2)
for side in ['top', 'right']:
    ax.spines[side].set_visible(False)
for side in ['left', 'bottom']:
    ax.spines[side].set_linewidth(1.6)
put(877, 77, 'Aire$^{+}$ mTECs', size=12.5)
put(757, 212, '% Pou2f3', size=13, rotation=90)
for lx, name in zip([857, 919], pou2f3_groups):
    ov.text(lx, 336, name, fontsize=13.5, rotation=45, ha='right', va='top', rotation_mode='anchor')

# ==== B
ax = px_axes(990, 0, 1410, 400)
ax.set_xlim(0, 1260)
ax.set_ylim(1200, 0)
ax.axis('off')
for poly, edge, col, pale in [(cluster_navy, edge_navy, '#2e3a7e', '#8e93c0'),
                              (cluster_purple, edge_purple, '#8e2a94', '#c995cd'),
                              (cluster_green, edge_green, '#2f8f55', '#8ac4a0'),
                              (cluster_red, edge_red, '#e0202f', '#ef8f96')]:
    ax.fill(*xy(poly), facecolor=pale, edgecolor=col, hatch='.......', linewidth=0)
    ax.scatter(*xy(edge), s=3, color=col, linewidths=0)
callout(ax, 'Cd21a', 725, 255, (708, 285, 540, 395))
callout(ax, 'Tuft', 920, 385, (913, 425, 838, 572))
callout(ax, 'Aire$^{+}$', 275, 445, (285, 475, 370, 635))
callout(ax, 'Late Aire', 833, 962, (815, 950, 545, 805), ha='left')
for num, nx, ny in [('2', 528, 415), ('4', 822, 595), ('1', 372, 650), ('3', 530, 797)]:
    ax.text(nx, ny, num, fontsize=11, ha='center', va='center', color='#222222')
put(1209, 373, 'UMAP 1', size=13.5)
put(1036, 206, 'UMAP 2', size=13.5, rotation=90)

# ==== C
parula = LinearSegmentedColormap.from_list('parula_like', [
    (0.0, '#2b2a8c'), (0.2, '#2d6fb8'), (0.325, '#1a90c0'), (0.425, '#1fa8a8'), (0.5, '#3db596'),
    (0.625, '#7fba80'), (0.75, '#d5b055'), (0.875, '#f5b53a'), (1.0, '#fbe80f')])
ax = px_axes(64, 568, 693, 788)
heat = np.vstack([np.repeat(top_scores, top_widths)[:1370], np.repeat(bottom_scores, bottom_widths)[:1370]])
ax.imshow(heat, aspect='auto', cmap=parula, vmin=-2, vmax=2, interpolation='nearest')
ax.axis('off')
for lx, name in [(77, 'Pou2f3'), (343, 'Myog'), (503, 'Aire')]:
    ov.plot([lx, lx], [555, 567], color='k', lw=1)
    put(lx, 551, name, size=13, rotation=90, va='bottom')
put(373, 476, 'Aire$^{+}$ mTEC gene scores', size=12.5)
put(700, 623, pou2f3_groups[0], size=12.5, ha='left')
put(700, 733, pou2f3_groups[1], size=12.5, ha='left')
cax = px_axes(325, 813, 432, 828)
ColorbarBase(cax, cmap=parula, norm=Normalize(-2, 2), orientation='horizontal', ticks=[])
cax.spines['outline'].set_visible(False)
put(331, 840, '\u22122', size=13.5)
put(429, 840, '2', size=13.5)
put(375, 862, 'Accessibility z scores', size=13.5)

# ==== D
ax = px_axes(886, 521, 1331, 835)
ax.set_xlim(-1.103, 1.597)
ax.set_ylim(-2.07, 52.07)
ax.scatter(*xy(d_grey), s=34, color='#bdbdbd', linewidths=0)
ax.scatter(*xy(d_blue), s=15, color='#3d7abf', linewidths=0)
ax.scatter(*xy(d_red), s=15, color='#dc2230', linewidths=0)
ax.scatter(*xy(d_black), s=62, color='k', linewidths=0, zorder=4)
callout(ax, 'Jund', 1.335, 42.8, (1.32, 42.4, 1.245, 41), ha='left')
callout(ax, 'Junb', 1.03, 43.9, (1.08, 41.6, 1.16, 39.4))
callout(ax, 'Fos', 1.35, 34, (1.33, 34.1, 1.197, 35.8), ha='left')
callout(ax, 'Snai1', -.787, 29.1, (-.67, 27.1, -.577, 23.5))
callout(ax, 'Myod1', -.22, 20.5, (-.327, 19.1, -.41, 16.3))
callout(ax, 'Pou5f1b', -.833, 19.7, (-.69, 17.8, -.565, 12))
callout(ax, 'Pou2f3', -.87, 9.1, (-.685, 8.3, -.447, 5.4))
callout(ax, 'Myog', -.62, .9, (-.457, .9, -.24, 3.2))
ax.set_xticks([-1, -.5, 0, .5, 1, 1.5], ['\u22121.0', '\u22120.5', '0', '0.5', '1.0', '1.5'])
ax.set_yticks([0, 10, 20, 30, 40, 50])
ax.tick_params(labelsize=13.5, color='#444444', length=6, pad=3)
for sp in ax.spines.values():
    sp.set_color('#555555')
put(1107, 473, 'TFmotif accesibility deviation (chromVAR)', size=13)
put(1109, 508, 'Aire$^{+}$ mTECs', size=13)
put(832, 680, 'Log$_{10}$ $\\mathit{P}$ value', size=13.5, rotation=90)
put(1109, 878, 'Average differential ($\\mathit{Ikzf1}^{\\mathit{+/fl}}$ vs. $\\mathit{Ikzf1}^{\\mathit{fl/fl}}$)', size=13.5)

# ==== E flow
flow_boxes = [(55.5, 960, 226, 1129), (250, 958, 419.5, 1128), (444, 959, 614, 1128), (637, 959, 807, 1129)]
flow_dots = [dots_bright, dots_bright, dots_sparse, dots_weak]
for k, box in enumerate(flow_boxes):
    ax = px_axes(*box)
    ax.set_xlim(0, 323)
    ax.set_ylim(510, 0)
    for cx, cy, w, h, rings in flow_contours[k]:
        for r, f in enumerate(np.linspace(1, .1, rings)):
            shade = '#9a9a9a' if r < rings / 3 else ('#6a6a6a' if r < 2 * rings / 3 else '#2e2e2e')
            ax.add_patch(Ellipse((cx, cy), w * f, h * f, fill=False, edgecolor=shade, lw=.7))
    ax.scatter(*xy(flow_dots[k]), s=1.5, color='k', linewidths=0)
    for gate in [gates_i[k], gates_ii[k], gates_iii[k]]:
        ax.add_patch(Rectangle((gate[0], gate[2]), gate[1] - gate[0], gate[3] - gate[2], fill=False,
                               edgecolor='#222222', lw=1))
    ax.text(73, 62, gate_percent_ii[k], color=RED_TXT, fontsize=14.5, ha='center', va='center')
    ax.text(215, 270, gate_percent_iii[k], color=RED_TXT, fontsize=14.5, ha='center', va='center')
    ax.text(91, 454, gate_percent_i[k], color=RED_TXT, fontsize=14.5, ha='center', va='center')
    ax.text(50, 220, 'II', color=RED_TXT, fontsize=14.5, ha='center', va='center')
    ax.text(255, 202, 'III', color=RED_TXT, fontsize=14.5, ha='center', va='center')
    ax.text(47, 319, 'I', color=RED_TXT, fontsize=14.5, ha='center', va='center')
    ax.set_xticks([17, 73, 127, 215, 293])
    ax.set_yticks([48, 170, 307, 390, 470])
    ax.set_xticks(flow_minor_x, minor=True)
    ax.set_yticks(flow_minor_y, minor=True)
    ax.tick_params(which='major', length=4, width=.8, color='#333333', labelsize=12.5, pad=2)
    ax.tick_params(which='minor', length=2, width=.5, color='#333333')
    if k == 0:
        ax.set_xticklabels(['\u221210$^{1}$', '0', '10$^{1}$', '10$^{2}$', '10$^{3}$'])
        ax.set_yticklabels(['10$^{3}$', '10$^{2}$', '10$^{1}$', '0', '\u221210$^{1}$'])
    else:
        ax.set_xticklabels([])
        ax.set_yticklabels([])
    for sp in ax.spines.values():
        sp.set_color('#666666')
    put((box[0] + box[2]) / 2 - 2, 949, flow_titles[k], size=12.5)
put(140, 1161, 'Aire', size=13.5)
put(17, 1043, 'MHC-II', size=13.5, rotation=90)


# ==== E bars
def bar_panel(box, mean, sd, pts, ymax, ticks, tick_labels, first, step, bar_w, sigs, ylabel, lab_x):
    ax = px_axes(*box)
    ax.set_xlim(-(first - box[0]) / step, 3 + (box[2] - (first + 3 * step)) / step)
    ax.set_ylim(0, ymax)
    ax.patch.set_alpha(0)
    ax.bar(range(4), mean, width=bar_w / step, fill=False, edgecolor=GENOTYPE_BAR, linewidth=2.4, zorder=3)
    spread = [-.24, .24, 0, 0]
    for i in range(4):
        ax.errorbar(i, mean[i], yerr=sd[i], color=GENOTYPE_BAR[i], lw=1, capsize=6, capthick=1, alpha=.75, zorder=4,
                    clip_on=False)
        ax.scatter([i + s for s in spread], pts[i], marker=MARKERS[i], s=42, color=GENOTYPE_BAR[i], linewidths=0,
                   zorder=5, clip_on=False)
    for x0, x1, level, mark in sigs:
        ax.plot([x0, x1], [level, level], color='#222222', lw=1.1, clip_on=False)
        if mark == 'NS':
            ax.annotate(mark, ((x0 + x1) / 2, level), xytext=(0, 3), textcoords='offset points', ha='center',
                        va='bottom', fontsize=13.5, annotation_clip=False)
        else:
            ax.annotate(mark, ((x0 + x1) / 2, level), xytext=(0, -4.7), textcoords='offset points', ha='center',
                        va='baseline', fontsize=21, annotation_clip=False)
    ax.set_yticks(ticks, tick_labels)
    ax.set_xticks([])
    ax.tick_params(labelsize=13.5, width=1.4, length=6, pad=2)
    for side in ['top', 'right']:
        ax.spines[side].set_visible(False)
    for side in ['left', 'bottom']:
        ax.spines[side].set_linewidth(1.6)
    put(lab_x, (box[1] + box[3]) / 2 - 4, ylabel, size=13.5, rotation=90)


bar_panel((894.5, 939, 1086, 1123), low_pct_mean, low_pct_sd, low_pct_pts, 100, [0, 20, 40, 60, 80, 100],
          ['0', '20', '40', '60', '80', '100'], 929, 42.6, 27,
          [(-.12, 3.15, 94.6, '****'), (1.69, 3.31, 84, '****')], '% Aire-neg MHC-II$^{low}$', 849)
bar_panel((1196, 938, 1383, 1123), low_num_mean, low_num_sd, low_num_pts, 2e5, [0, 5e4, 1e5, 1.5e5, 2e5],
          ['0', '5.0x10$^{4}$', '1.0x10$^{5}$', '1.5x10$^{5}$', '2.0x10$^{5}$'], 1225, 42.6, 27,
          [(-.19, 3.07, 2.09e5, '**'), (1.69, 3.29, 1.906e5, '*')], '# Aire-neg MHC-II$^{low}$', 1109)
bar_panel((103.5, 1212, 288, 1396), high_pct_mean, high_pct_sd, high_pct_pts, 50, [0, 10, 20, 30, 40, 50],
          ['0', '10', '20', '30', '40', '50'], 131.6, 42.6, 27,
          [(-.12, 3.13, 44.1, '**'), (1.67, 3.27, 34, '****')], '% Aire-neg MHC-II$^{high}$', 51)
bar_panel((398, 1212, 584, 1396), high_num_mean, high_num_sd, high_num_pts, 1.5e5, [0, 5e4, 1e5, 1.5e5],
          ['0', '5.0 \u00d7 10$^{4}$', '1.0 \u00d7 10$^{5}$', '1.5 \u00d7 10$^{5}$'], 427, 42.4, 27,
          [(-.14, 3.15, 1.134e5, 'NS'), (1.7, 3.33, .7e5, '**')], '# Aire-neg MHC-II$^{high}$', 306)
bar_panel((682, 1204, 873, 1395), aire_pct_mean, aire_pct_sd, aire_pct_pts, 50, [0, 10, 20, 30, 40, 50],
          ['0', '10', '20', '30', '40', '50'], 711, 44, 28,
          [(-.07, 3.11, 41.2, '****'), (1.7, 3.32, 18.3, '***')], '% Aire$^{+}$', 630)
bar_panel((954, 1204, 1144, 1395), aire_num_mean, aire_num_sd, aire_num_pts, 8e4, [0, 2e4, 4e4, 6e4, 8e4],
          ['0', '2 \u00d7 10$^{4}$', '4 \u00d7 10$^{4}$', '6 \u00d7 10$^{4}$', '8 \u00d7 10$^{4}$'], 982, 44.3, 28,
          [(-.09, 3.07, 7.54e4, '****'), (1.74, 3.29, 2.86e4, '**')], '# Aire$^{+}$', 877)
bar_panel((1237, 1204, 1429, 1395), aire_mfi_mean, aire_mfi_sd, aire_mfi_pts, 1.5e4, [0, 5e3, 1e4, 1.5e4],
          ['0', '5 \u00d7 10$^{3}$', '1 \u00d7 10$^{4}$', '1.5 \u00d7 10$^{4}$'], 1267, 44, 28,
          [(-.11, 3.07, 11.99e3, '****'), (1.73, 3.27, 8.48e3, '****')], 'Aire MFI', 1153)

for x0, x1, y0 in [(903, 1373, 1148), (103.5, 574, 1422), (683, 1414, 1422)]:
    ov.plot([x0, x1], [y0, y0], color='#333333', lw=1.2)
ov.text(1050, 1167, 'I.', color=RED_TXT, fontsize=13.5, ha='right', va='center')
ov.text(1053, 1167, 'Aire-neg MHC-II$^{low}$', fontsize=13.5, ha='left', va='center')
ov.text(264, 1438, 'II.', color=RED_TXT, fontsize=13.5, ha='right', va='center')
ov.text(265, 1438, 'Aire-neg MHC-II$^{high}$', fontsize=13.5, ha='left', va='center')
ov.text(1024, 1438, 'III.', color=RED_TXT, fontsize=13.5, ha='right', va='center')
ov.text(1025, 1438, 'Aire$^{+}$', fontsize=13.5, ha='left', va='center')

for ly, col, name in zip([981, 1012, 1043, 1074], GENOTYPE_KEY, flow_titles):
    ov.add_patch(Rectangle((1383, ly - 7), 15, 14, facecolor=col, edgecolor='none'))
    put(1404, ly, name, size=12.5, ha='left')

# ==== F
ax = px_axes(106, 1509, 555, 1841)
ax.set_xlim(-10.82, 10.77)
ax.set_ylim(-2.75, 67.6)
ax.fill_between(grey_x, grey_lo, grey_hi, color='#bdbdbd', lw=0)
ax.fill_between(red_x, 1.7, red_hi, color='#ed1c24', lw=0, zorder=2)
ax.fill_between(blue_x, blue_lo, blue_hi, color='#3d7abf', lw=0, zorder=2)
ax.scatter(*xy(f_grey), s=14, color='#bdbdbd', linewidths=0)
ax.scatter(*xy(f_red), s=15, color='#d9232e', linewidths=0, zorder=3)
ax.scatter(*xy(f_blue), s=15, color='#3d7abf', linewidths=0, zorder=3)
ax.scatter(*xy(f_black), s=62, color='k', linewidths=0, zorder=7)
callout(ax, 'Myo1b', -5.1, 27.4, (-4.8, 25.2, -1.6, 6.7))
callout(ax, 'Myog', -7.3, 20.1, (-6.1, 18.6, -2.65, 7.8))
callout(ax, 'Myom2', -8.6, 6, (-7, 5.6, -1.4, 2.3))
callout(ax, 'Gad1', -.1, 26.7, (.96, 26.7, 2.8, 21))
callout(ax, 'Fabp9', 8.1, 33.7, (7.2, 31.4, 2.7, 8.5))
callout(ax, 'Pcp4', 8.85, 27, (7.75, 26.1, 3.15, 5.3))
callout(ax, 'Obp1a', 9.05, 20.8, (8.75, 18.6, 8.35, 10.6))
callout(ax, 'Ins2', 9.15, .2, (8.3, .5, 3.95, 1.9))
ax.text(-8.83, 60.2, '767', color=RED_TXT, fontsize=13.5, ha='center', va='center')
ax.text(8.53, 60.2, '2475', color=BLUE_TXT, fontsize=13.5, ha='center', va='center')
ax.set_xticks([-10, -5, 0, 5, 10], ['\u221210', '\u22125', '0', '5', '10'])
ax.set_yticks([0, 10, 20, 30, 40, 50, 60])
ax.tick_params(labelsize=13.5, color='#444444', length=6, pad=3)
for sp in ax.spines.values():
    sp.set_color('#555555')
put(330, 1882, 'Log$_{2}$ fold change', size=13.5)
put(330, 1903, '($\\mathit{Cre}(-)\\mathit{Ikzf1}^{\\mathit{fl/fl}}\\ \\mathit{Pou2f3}^{\\mathit{-/-}}$ vs. '
    '$\\mathit{Cre}(+)\\mathit{Ikzf1}^{\\mathit{fl/fl}}\\ \\mathit{Pou2f3}^{\\mathit{-/-}}$)', size=13)
put(50, 1677, 'Log$_{10}$ $\\mathit{P}$ value', size=13.5, rotation=90)


# ==== G, H
def overlap_panel(box, xlim, ylim, ticks, tick_labels, purple, blob, left_num, right_num, title, title_x, lab_x):
    ax = px_axes(*box)
    ax.set_xlim(*xlim)
    ax.set_ylim(*ylim)
    ax.hlines([0, 10, 20, 30, 40, 50, 60], *xlim, color='#ececec', lw=1, zorder=0)
    ax.vlines([-10, -7.5, -5, -2.5, 0, 2.5, 5, 7.5, 10], *ylim, color='#f2f2f2', lw=.8, zorder=0)
    ax.fill_between(cloud_x, cloud_lo, cloud_hi, color='#bdbdbd', lw=0, zorder=1)
    ax.scatter(*xy(f_red + f_blue + f_grey), s=20, color='#bdbdbd', linewidths=0, zorder=2)
    ax.fill_between(blob[0], blob[2], blob[1], color='#7f4aa0', lw=0, zorder=3)
    ax.scatter(*xy(purple), s=22, color='#7f4aa0', linewidths=0, zorder=4)
    ax.text(*left_num, color=RED_TXT, fontsize=13.5, ha='center', va='center')
    ax.text(*right_num, color=BLUE_TXT, fontsize=13.5, ha='center', va='center')
    ax.set_xticks([-10, -5, 0, 5, 10], ['\u221210', '\u22125', '0', '5', '10'])
    ax.set_yticks(ticks, tick_labels)
    ax.tick_params(labelsize=13.5, color='#777777', length=2, pad=3)
    for sp in ax.spines.values():
        sp.set_color('#666666')
        sp.set_linewidth(1.2)
    put(title_x, 1495, title, size=13)
    put(title_x, 1874, 'Log$_{2}$ fold change', size=13.5)
    put(lab_x, 1677, 'Log$_{10}$ $\\mathit{P}$ value', size=13.5, rotation=90)


overlap_panel((646, 1510, 1070, 1838), (-11.09, 10.99), (-3.06, 63.9), [0, 20, 40, 60], ['0', '20', '40', '60'],
              g_purple, (g_blob_x, g_blob_hi, g_blob_lo), (-9.1, 57, '77'), (8.9, 57, '894'),
              'Top 1000 Aire-regulated genes', 855, 603)
overlap_panel((1145, 1512, 1566, 1838), (-11, 11.1), (-3.06, 63.5), [.8, 20, 33.5, 53.6], ['0', '20', '40', '60'],
              h_purple, (h_blob_x, h_blob_hi, h_blob_lo), (-8.87, 57, '357'), (8.76, 57, '620'),
              'Top 1000 Fezf2-regulated genes', 1354, 1099)

fig.savefig('out.png', dpi=100)
